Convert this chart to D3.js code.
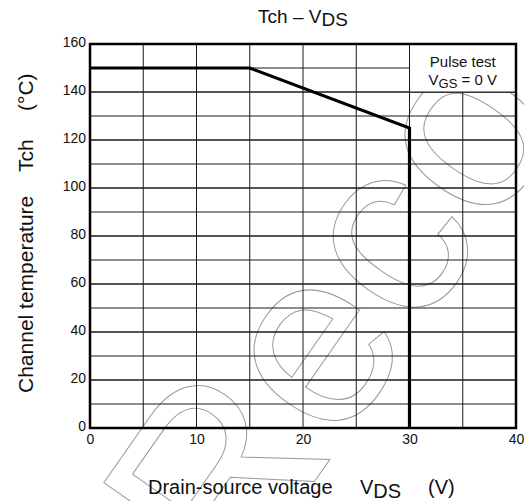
<!DOCTYPE html>
<html><head><meta charset="utf-8">
<script src="https://cdn.jsdelivr.net/npm/d3@7"></script>
<style>
html,body{margin:0;padding:0;background:#fff;}
svg{display:block;font-family:"Liberation Sans",Arial,sans-serif;}
</style></head>
<body><svg id="c" width="524" height="501"></svg>
<script>
// Data
const vdsPoints = [0, 15, 30, 30];
const tchPoints = [150, 150, 125, 0];
const xTicks = [0, 10, 20, 30, 40];
const yTicks = [0, 20, 40, 60, 80, 100, 120, 140, 160];
const xGrid = [5, 10, 15, 20, 25, 30, 35];
const yGrid = [10, 20, 30, 40, 50, 60, 70, 80, 90, 100, 110, 120, 130, 140, 150];

const svg = d3.select("#c");
const L = 90, R = 516, T = 44, B = 428;
const x = d3.scaleLinear().domain([0, 40]).range([L, R]);
const y = d3.scaleLinear().domain([0, 160]).range([B, T]);

// watermark (outlined, partly outside the picture as in the reference)
svg.append("text")
  .attr("transform", "translate(233,598) rotate(-55)")
  .attr("font-size", 250)
  .attr("fill", "none")
  .attr("stroke", "#9a9a9a")
  .attr("stroke-width", 1)
  .text("Reco");

// grid
svg.append("g").selectAll("line").data(xGrid).join("line")
  .attr("x1", d => x(d)).attr("x2", d => x(d))
  .attr("y1", y(0)).attr("y2", y(160))
  .attr("stroke", "#1a1a1a").attr("stroke-width", 1);
svg.append("g").selectAll("line").data(yGrid).join("line")
  .attr("y1", d => y(d)).attr("y2", d => y(d))
  .attr("x1", x(0)).attr("x2", x(40))
  .attr("stroke", "#1a1a1a").attr("stroke-width", d => d % 20 === 0 ? 1.3 : 1);

// legend box (covers grid)
svg.append("rect")
  .attr("x", x(30)).attr("y", y(160))
  .attr("width", x(40) - x(30)).attr("height", y(140) - y(160))
  .attr("fill", "#fff").attr("stroke", "#1a1a1a").attr("stroke-width", 1);
svg.append("text").attr("x", (x(30) + x(40)) / 2).attr("y", 67)
  .attr("text-anchor", "middle").attr("font-size", 15).attr("fill", "#111")
  .text("Pulse test");
const l2 = svg.append("text").attr("x", (x(30) + x(40)) / 2).attr("y", 85)
  .attr("text-anchor", "middle").attr("font-size", 15).attr("fill", "#111");
l2.append("tspan").text("V");
l2.append("tspan").attr("dy", 3).attr("font-size", 13).text("GS");
l2.append("tspan").attr("dy", -3).text(" = 0 V");

// frame
svg.append("rect").attr("x", L).attr("y", T).attr("width", R - L).attr("height", B - T)
  .attr("fill", "none").attr("stroke", "#000").attr("stroke-width", 2.5);

// curve
const line = d3.line().x((d, i) => x(vdsPoints[i])).y((d, i) => y(tchPoints[i]));
svg.append("path").datum(vdsPoints).attr("d", line)
  .attr("fill", "none").attr("stroke", "#000").attr("stroke-width", 3.2)
  .attr("stroke-linejoin", "miter");

// axes tick labels
const xAxis = d3.axisBottom(x).tickValues(xTicks).tickSize(0).tickPadding(6);
const gx = svg.append("g").attr("transform", `translate(0,${B})`).call(xAxis);
gx.select(".domain").remove();
gx.selectAll("text").attr("font-size", 14).attr("font-family", "Liberation Sans, Arial").attr("fill", "#111");

const yAxis = d3.axisLeft(y).tickValues(yTicks).tickSize(0).tickPadding(4);
const gy = svg.append("g").attr("transform", `translate(${L},0)`).call(yAxis);
gy.select(".domain").remove();
gy.selectAll("text").attr("font-size", 14).attr("font-family", "Liberation Sans, Arial").attr("fill", "#111").attr("dy", "0.2em");

// title
const tt = svg.append("text").attr("x", (L + R) / 2).attr("y", 23)
  .attr("text-anchor", "middle").attr("font-size", 19).attr("fill", "#111");
tt.append("tspan").text("Tch – V");
tt.append("tspan").attr("dy", 3).text("DS");

// x label
const xl = svg.append("text").attr("x", 148).attr("y", 494).attr("font-size", 20).attr("fill", "#111");
xl.append("tspan").text("Drain-source voltage");
xl.append("tspan").attr("x", 360).text("V");
xl.append("tspan").attr("dy", 4).text("DS");
xl.append("tspan").attr("x", 428).attr("dy", -4).text("(V)");

// y label
const yl = svg.append("text").attr("transform", "translate(33,393) rotate(-90)")
  .attr("font-size", 21).attr("fill", "#111");
yl.append("tspan").attr("x", 0).text("Channel temperature");
yl.append("tspan").attr("x", 221).text("Tch");
yl.append("tspan").attr("x", 282).text("(°C)");
</script></body></html>
